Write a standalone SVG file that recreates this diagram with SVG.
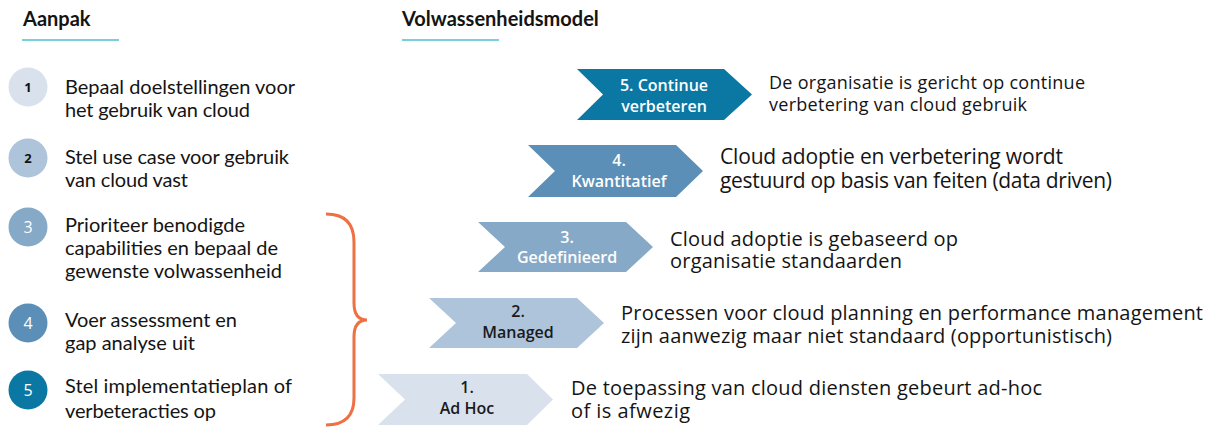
<svg xmlns="http://www.w3.org/2000/svg" width="1217" height="427" viewBox="0 0 1217 427">
<style>
.h{font-family:Lato,"Open Sans",sans-serif;font-weight:bold;font-size:20px;fill:#141414}
.ul{stroke:#4DBFD0;stroke-width:1.5}
.st{font-family:Lato,"Noto Sans",sans-serif;font-size:20px;fill:#141414}
.cn{font-family:"Open Sans",sans-serif;text-anchor:middle}
.cd{font-size:13px;font-weight:bold;fill:#111}
.cw{font-size:16px;fill:#fff}
.lb{font-family:"Open Sans","Noto Sans",sans-serif;font-weight:600;font-size:16px;text-anchor:middle}
.lw{fill:#fff}
.ld{fill:#1a1a1a}
.ds{font-family:"Open Sans","Noto Sans",sans-serif;font-size:20px;fill:#141414}
.c1{fill:#D9E1EC}.c2{fill:#AEC4DA}.c3{fill:#86A9C7}.c4{fill:#5B8FB7}.c5{fill:#0B77A3}
</style>
<rect width="1217" height="427" fill="#fff"/>
<g id="headings">
<text class="h" x="23" y="26">Aanpak</text>
<line class="ul" x1="22" y1="40" x2="119" y2="40"/>
<text class="h" x="402" y="26">Volwassenheidsmodel</text>
<line class="ul" x1="402" y1="40" x2="499" y2="40"/>
</g>
<g id="step1">
<circle class="c1" cx="28" cy="87" r="19.5"/>
<text class="cn cd" x="28" y="92">1</text>
<text class="st" x="65" y="94" textLength="230">Bepaal doelstellingen voor</text>
<text class="st" x="65" y="117" textLength="185">het gebruik van cloud</text>
</g>
<g id="step2">
<circle class="c2" cx="28" cy="158" r="19.5"/>
<text class="cn cd" x="28" y="163">2</text>
<text class="st" x="65" y="164" textLength="224">Stel use case voor gebruik</text>
<text class="st" x="65" y="187" textLength="123">van cloud vast</text>
</g>
<g id="step3">
<circle class="c3" cx="28" cy="227" r="19.5"/>
<text class="cn cw" x="28" y="233">3</text>
<text class="st" x="65" y="232" textLength="180">Prioriteer benodigde</text>
<text class="st" x="65" y="255" textLength="213">capabilities en bepaal de</text>
<text class="st" x="65" y="278" textLength="217">gewenste volwassenheid</text>
</g>
<g id="step4">
<circle class="c4" cx="28" cy="323" r="19.5"/>
<text class="cn cw" x="28" y="329">4</text>
<text class="st" x="65" y="327" textLength="172">Voer assessment en</text>
<text class="st" x="65" y="350" textLength="130">gap analyse uit</text>
</g>
<g id="step5">
<circle class="c5" cx="28" cy="390" r="19.5"/>
<text class="cn cw" x="28" y="396">5</text>
<text class="st" x="65" y="393" textLength="227">Stel implementatieplan of</text>
<text class="st" x="65" y="418" textLength="151">verbeteracties op</text>
</g>
<g id="connectors">
<path d="M326,214 Q354,214 354,242 L354,303 Q354,320 367,320 Q354,320 354,337 L354,398 Q354,425 326,425" fill="none" stroke="#EE7043" stroke-width="3"/>
</g>
<g id="level5">
<polygon class="c5" points="577,69 724,69 752,94.5 724,120 577,120 603,94.5"/>
<text class="lb lw" x="664" y="91">5. Continue</text>
<text class="lb lw" x="664" y="112">verbeteren</text>
<text class="ds" x="769" y="89" style="font-size:18px" textLength="316">De organisatie is gericht op continue</text>
<text class="ds" x="769" y="111" style="font-size:18px" textLength="258">verbetering van cloud gebruik</text>
</g>
<g id="level4">
<polygon class="c4" points="528,145 676,145 703,171 676,197 528,197 555,171"/>
<text class="lb lw" x="619" y="166">4.</text>
<text class="lb lw" x="619" y="187">Kwantitatief</text>
<text class="ds" x="720" y="164" style="font-size:21px" textLength="343">Cloud adoptie en verbetering wordt</text>
<text class="ds" x="720" y="188" style="font-size:21px" textLength="392">gestuurd op basis van feiten (data driven)</text>
</g>
<g id="level3">
<polygon class="c3" points="478,222 626,222 653,247 626,272 478,272 505,247"/>
<text class="lb lw" x="567" y="243">3.</text>
<text class="lb lw" x="567" y="263">Gedefinieerd</text>
<text class="ds" x="670" y="246" textLength="288">Cloud adoptie is gebaseerd op</text>
<text class="ds" x="670" y="268" textLength="232">organisatie standaarden</text>
</g>
<g id="level2">
<polygon class="c2" points="429,298 577,298 604,323 577,348 429,348 456,323"/>
<text class="lb ld" x="518" y="317">2.</text>
<text class="lb ld" x="518" y="338">Managed</text>
<text class="ds" x="621" y="320" textLength="582">Processen voor cloud planning en performance management</text>
<text class="ds" x="621" y="343" textLength="491">zijn aanwezig maar niet standaard (opportunistisch)</text>
</g>
<g id="level1">
<polygon class="c1" points="378,374 527,374 553,399.5 527,425 378,425 405,399.5"/>
<text class="lb ld" x="467" y="393">1.</text>
<text class="lb ld" x="467" y="414">Ad Hoc</text>
<text class="ds" x="571" y="395" textLength="471">De toepassing van cloud diensten gebeurt ad-hoc</text>
<text class="ds" x="571" y="418" textLength="119">of is afwezig</text>
</g>
</svg>
